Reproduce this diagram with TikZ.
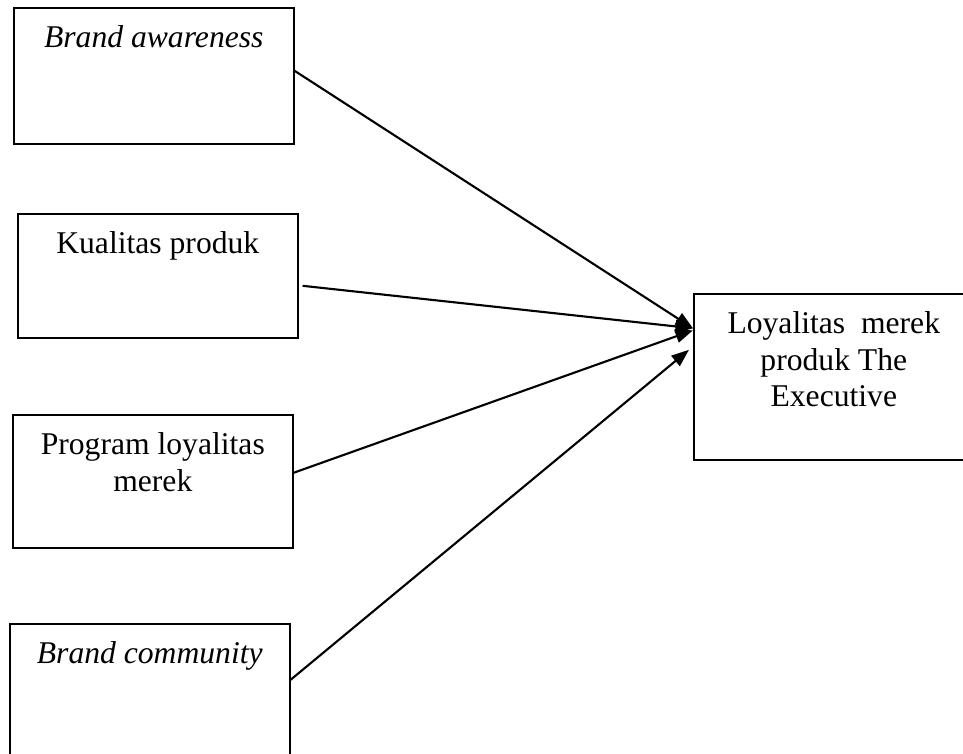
\documentclass[tikz,border=0pt]{standalone}
\usepackage{fontspec}
\setmainfont{Liberation Serif}
\usetikzlibrary{positioning,arrows.meta}

% text of a box: first baseline fixed below the top edge
\newcommand{\boxtext}[2]{\parbox[t][#1][t]{5.6cm}{\centering\rule{0pt}{0.8cm}#2}}

\begin{document}
\begin{tikzpicture}[
		box/.style={draw, rectangle, line width=0.9pt, inner sep=0pt, anchor=north west
			,font=\fontsize{18}{20.7}\selectfont}
		,link/.style={line width=1.2pt, -{Triangle[length=10pt,width=7.5pt]}}
	]
		\useasboundingbox (0,0) rectangle (19.26,-15.06);
		\clip (0,0) rectangle (19.26,-15.06);

		\node[box] (aware) at (0.26,-0.14) {\boxtext{2.72cm}{\textit{Brand awareness}}};
		\node[box] (quality) at (0.34,-4.26) {\boxtext{2.48cm}{Kualitas produk}};
		\node[box] (program) at (0.24,-8.28) {\boxtext{2.66cm}{Program loyalitas\\merek}};
		\node[box] (community) at (0.18,-12.46) {\boxtext{2.7cm}{\textit{Brand community}}};
		\node[box] (exec) at (13.86,-5.86) {\boxtext{3.32cm}{Loyalitas\ \ merek\\produk The\\Executive}};

		\coordinate (hit) at ([yshift=0.97cm]exec.west);
		\coordinate (hitlow) at ([shift={(-0.08,0.54)}]exec.west);

		\draw[link] ([yshift=0.1cm]aware.east) -- (hit);
		\draw[link] ([shift={(0.08,-0.2)}]quality.east) -- (hit);
		\draw[link] ([yshift=0.17cm]program.east) -- ([yshift=-0.04cm]hit);
		\draw[link] ([yshift=0.23cm]community.east) -- (hitlow);
	\end{tikzpicture}
\end{document}
